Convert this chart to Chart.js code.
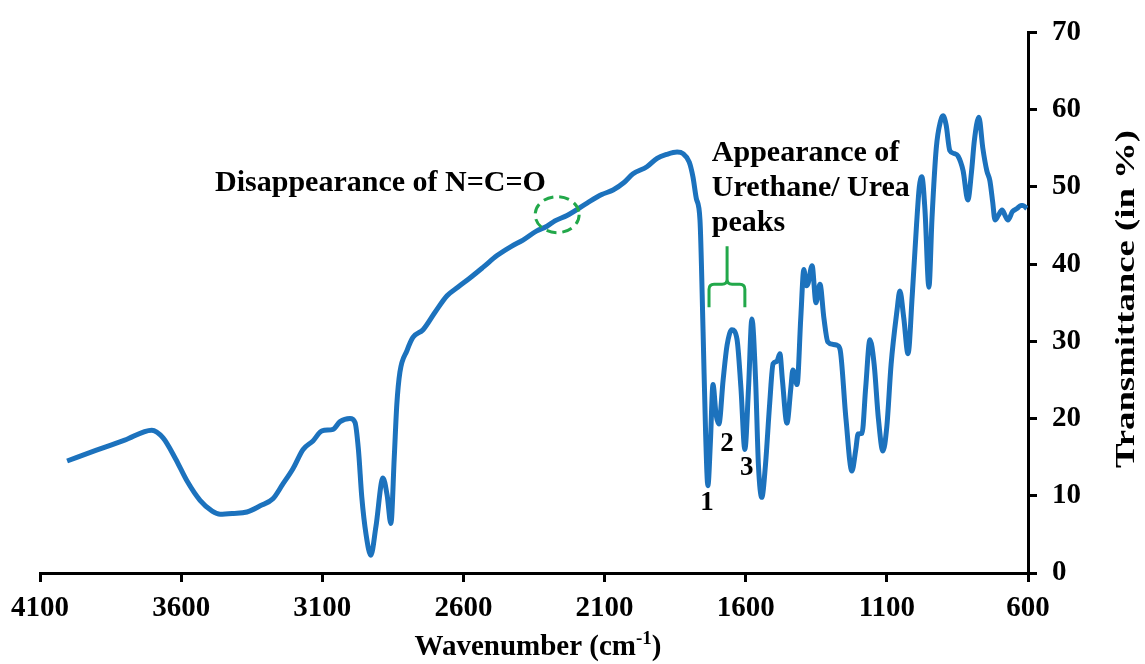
<!DOCTYPE html>
<html>
<head>
<meta charset="utf-8">
<title>FTIR spectrum</title>
<script src="https://cdn.jsdelivr.net/npm/chart.js"></script>
<style>
    html, body { margin: 0; padding: 0; background: #ffffff; }
    #wrap { width: 1145px; height: 664px; }
</style>
</head>
<body>
<div id="wrap"><canvas id="ftir-chart" width="1145" height="664"></canvas></div>
<script>
// Wavenumber (cm-1) and transmittance (%)
const wavenumbers = [
    4004, 3900, 3800, 3704, 3664, 3620, 3579, 3533, 3490, 3462, 3416, 3367, 3320, 3275, 3240,
    3204, 3168, 3133, 3101, 3062, 3037, 3002, 2984, 2972, 2960, 2945, 2928, 2910, 2885, 2870,
    2857, 2845, 2836, 2825, 2800, 2779, 2743, 2700, 2658, 2620, 2577, 2530, 2481, 2430, 2389,
    2340, 2304, 2276, 2233, 2162, 2110, 2070, 2030, 1999, 1950, 1914, 1880, 1843, 1822, 1800,
    1787, 1775, 1762, 1751, 1742, 1734, 1725, 1716, 1705, 1695, 1680, 1666, 1649, 1631, 1617,
    1603, 1590, 1578, 1565, 1555, 1543, 1530, 1515, 1503, 1490, 1479, 1470, 1454, 1440, 1433,
    1418, 1405, 1394, 1385, 1379, 1365, 1351, 1337, 1323, 1309, 1290, 1277, 1266, 1245, 1224,
    1210, 1202, 1188, 1175, 1160, 1145, 1130, 1114, 1100, 1085, 1064, 1054, 1040, 1025, 1010,
    995, 985, 976, 965, 951, 940, 925, 910, 901, 890, 877, 860, 848, 830, 813,
    800, 790, 774, 760, 746, 735, 725, 717, 705, 692, 680, 671, 655, 639, 625,
    618, 604
];
const transmittance = [
    14.5, 15.9, 17.2, 18.5, 17.5, 14.8, 11.9, 9.4, 8.0, 7.6, 7.7, 7.9, 8.7, 9.6, 11.5,
    13.5, 16.0, 17.1, 18.4, 18.6, 19.6, 20.0, 19.5, 16.0, 9.8, 5.0, 2.3, 6.0, 12.3, 10.0,
    6.4, 15.0, 21.8, 26.0, 28.8, 30.5, 31.5, 33.8, 35.9, 37.0, 38.2, 39.6, 41.1, 42.3, 43.1,
    44.3, 44.9, 45.6, 46.3, 47.9, 49.0, 49.6, 50.6, 51.7, 52.6, 53.7, 54.2, 54.5, 54.3, 53.2,
    51.3, 48.5, 45.7, 31.2, 18.0, 11.3, 17.0, 24.4, 20.5, 19.3, 25.0, 29.5, 31.5, 30.3, 24.0,
    16.0, 24.0, 32.9, 25.0, 14.0, 9.8, 14.0, 22.0, 27.1, 27.4, 28.4, 25.0, 19.4, 24.0, 26.3,
    24.4, 33.0, 39.3, 37.2, 37.5, 39.8, 35.0, 37.4, 33.0, 29.9, 29.6, 29.5, 29.0, 20.0, 13.2,
    16.0, 18.0, 18.1, 24.0, 30.2, 27.0, 20.0, 15.8, 19.0, 27.0, 34.0, 36.5, 33.0, 28.4, 36.0,
    45.0, 50.0, 51.3, 47.0, 37.0, 46.0, 55.0, 58.5, 59.2, 58.0, 54.7, 54.3, 54.0, 52.1, 48.3,
    52.0, 56.0, 59.0, 55.0, 52.1, 50.8, 48.0, 45.7, 46.3, 47.0, 46.2, 45.7, 46.8, 47.2, 47.6,
    47.6, 47.2
];
const xTicks = [4100, 3600, 3100, 2600, 2100, 1600, 1100, 600];
const yTicks = [0, 10, 20, 30, 40, 50, 60, 70];
const peakLabels = ['1', '2', '3'];
const peakLabelWavenumbers = [1737, 1666, 1596];
const peakLabelValues = [9.0, 16.7, 13.6];

const SERIF = '"Liberation Serif", "Times New Roman", serif';
const LINE_BLUE = '#1c72bd';
const MARK_GREEN = '#22a84a';

// Notes, axis titles and the peak numbers, placed through the scales
const notesPlugin = {
    id: 'notes',
    afterDraw(chart) {
        const { ctx, scales: { x, y } } = chart;
        ctx.save();
        ctx.fillStyle = '#000';
        ctx.textBaseline = 'alphabetic';
        ctx.font = 'bold 30px ' + SERIF;

        // "Disappearance of N=C=O"
        ctx.textAlign = 'left';
        ctx.fillText('Disappearance of N=C=O', x.getPixelForValue(3480), y.getPixelForValue(49.5));

        // dashed ellipse round the former isocyanate band
        ctx.strokeStyle = MARK_GREEN;
        ctx.lineWidth = 3;
        ctx.setLineDash([10, 6]);
        ctx.beginPath();
        ctx.ellipse(x.getPixelForValue(2268), y.getPixelForValue(46.4), 22, 18, 0, 0, Math.PI * 2);
        ctx.stroke();
        ctx.setLineDash([]);

        // "Appearance of Urethane/ Urea peaks"
        const noteX = x.getPixelForValue(1720);
        ctx.fillText('Appearance of', noteX, y.getPixelForValue(53.3));
        ctx.fillText('Urethane/ Urea', noteX, y.getPixelForValue(48.8));
        ctx.fillText('peaks', noteX, y.getPixelForValue(44.3));

        // curly bracket over peaks 1-3
        const bl = x.getPixelForValue(1730), br = x.getPixelForValue(1603), bm = x.getPixelForValue(1666);
        const bTop = y.getPixelForValue(42.3), bBar = y.getPixelForValue(37.4), bLeg = y.getPixelForValue(34.4);
        const r = 5;
        ctx.lineWidth = 3;
        ctx.beginPath();
        ctx.moveTo(bm, bTop);
        ctx.lineTo(bm, bBar - r);
        ctx.quadraticCurveTo(bm, bBar, bm - r, bBar);
        ctx.lineTo(bl + r, bBar);
        ctx.quadraticCurveTo(bl, bBar, bl, bBar + r);
        ctx.lineTo(bl, bLeg);
        ctx.moveTo(bm, bBar - r);
        ctx.quadraticCurveTo(bm, bBar, bm + r, bBar);
        ctx.lineTo(br - r, bBar);
        ctx.quadraticCurveTo(br, bBar, br, bBar + r);
        ctx.lineTo(br, bLeg);
        ctx.stroke();

        // peak numbers
        ctx.font = 'bold 27px ' + SERIF;
        ctx.textAlign = 'center';
        ctx.textBaseline = 'middle';
        peakLabels.forEach((lab, i) => {
            ctx.fillText(lab, x.getPixelForValue(peakLabelWavenumbers[i]), y.getPixelForValue(peakLabelValues[i]));
        });

        // x axis title with superscript
        ctx.textBaseline = 'alphabetic';
        ctx.textAlign = 'left';
        const main = 'Wavenumber (cm', sup = '-1', close = ')';
        ctx.font = 'bold 29px ' + SERIF;
        const wMain = ctx.measureText(main).width, wClose = ctx.measureText(close).width;
        ctx.font = 'bold 19px ' + SERIF;
        const wSup = ctx.measureText(sup).width;
        const total = wMain + wSup + wClose;
        const tx = (x.left + x.right) / 2 - total / 2 + 4;
        const ty = 655;
        ctx.font = 'bold 29px ' + SERIF;
        ctx.fillText(main, tx, ty);
        ctx.font = 'bold 19px ' + SERIF;
        ctx.fillText(sup, tx + wMain, ty - 11);
        ctx.font = 'bold 29px ' + SERIF;
        ctx.fillText(close, tx + wMain + wSup, ty);

        // y axis title, reading upwards on the right, drawn long like the original
        const title = 'Transmittance (in %)';
        ctx.font = 'bold 28px ' + SERIF;
        const tw = ctx.measureText(title).width;
        ctx.translate(1134, 299);
        ctx.rotate(-Math.PI / 2);
        ctx.scale(338 / tw, 1);
        ctx.textAlign = 'center';
        ctx.fillText(title, 0, 0);
        ctx.restore();
    }
};

document.addEventListener('DOMContentLoaded', function() {
    const ctx = document.getElementById('ftir-chart').getContext('2d');
    const points = wavenumbers.map((w, i) => ({ x: w, y: transmittance[i] }));
    const tickFont = { family: SERIF, size: 29, weight: 'bold' };

    new Chart(ctx, {
        type: 'line',
        data: {
            datasets: [{
                data: points,
                borderColor: LINE_BLUE,
                borderWidth: 5,
                pointRadius: 0,
                cubicInterpolationMode: 'monotone',
                fill: false
            }]
        },
        options: {
            responsive: false,
            animation: false,
            layout: { padding: { left: 40, top: 28, right: 0, bottom: 0 } },
            plugins: {
                legend: { display: false },
                tooltip: { enabled: false }
            },
            scales: {
                x: {
                    type: 'linear',
                    reverse: true,
                    min: 600,
                    max: 4100,
                    afterBuildTicks: scale => { scale.ticks = xTicks.map(v => ({ value: v })); },
                    afterFit: scale => { scale.height = 91; },
                    grid: { drawOnChartArea: false, drawTicks: true, tickLength: 9, color: '#000', lineWidth: 3 },
                    border: { display: true, color: '#000', width: 3 },
                    ticks: {
                        color: '#000', font: tickFont, padding: 9, maxRotation: 0, autoSkip: false,
                        callback: value => String(value)
                    }
                },
                y: {
                    position: 'right',
                    min: 0,
                    max: 70,
                    afterBuildTicks: scale => { scale.ticks = yTicks.map(v => ({ value: v })); },
                    afterFit: scale => { scale.width = 117; },
                    grid: { drawOnChartArea: false, drawTicks: true, tickLength: 9, color: '#000', lineWidth: 3 },
                    border: { display: true, color: '#000', width: 3 },
                    ticks: { color: '#000', font: tickFont, padding: 15, callback: value => String(value) }
                }
            }
        },
        plugins: [notesPlugin]
    });
});
</script>
</body>
</html>
